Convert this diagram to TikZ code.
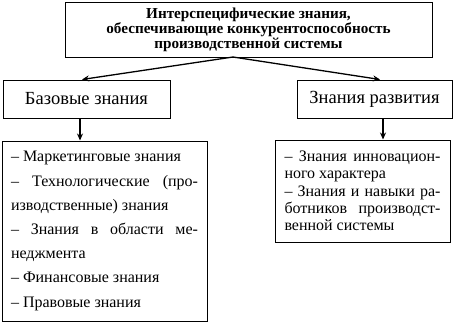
\documentclass[tikz,border=0pt]{standalone}
\usepackage{fontspec}
\setmainfont{Liberation Serif}
\usepackage{tikz}
\usetikzlibrary{arrows.meta,positioning}

\tikzset{
  box/.style={draw, line width=1pt, inner sep=0pt, align=center},
  listbox/.style={draw, line width=1pt, inner sep=0pt},
  arr/.style={line width=1.3pt, -{Stealth[length=7pt,width=6pt]}}
}

\begin{document}
\begin{tikzpicture}[x=1pt, y=-1pt]
\useasboundingbox (0,0) rectangle (454,324);

% upper level
\node[box, minimum width=367pt, minimum height=55pt,
  font=\fontsize{15.2}{15}\selectfont\bfseries] (top) at (248.5,29.5)
  {Интерспецифические знания,\\ обеспечивающие конкурентоспособность\\ производственной системы};

% the two kinds of knowledge
\node[box, minimum width=167pt, minimum height=38pt,
  font=\fontsize{18.5}{19}\selectfont] (base) at (86.5,99) {Базовые знания};
\node[box, minimum width=155pt, minimum height=38pt,
  font=\fontsize{18.5}{19}\selectfont] (dev) at (374.5,99) {Знания развития};

% lists
\node[listbox, minimum width=205pt, minimum height=180pt] (baselist) at (104.5,231)
  {\begin{minipage}{187pt}\fontsize{16}{24.2}\selectfont
   – Маркетинговые знания\\
   – Технологические (про-\linebreak изводственные) знания\\
   – Знания в области ме-\linebreak неджмента\\
   – Финансовые знания\\
   – Правовые знания
   \end{minipage}};
\node[listbox, minimum width=175pt, minimum height=102pt] (devlist) at (362.5,191)
  {\begin{minipage}{156pt}\fontsize{16}{17.3}\selectfont
   – Знания инновацион-\linebreak ного характера\\
   – Знания и навыки ра-\linebreak ботников производст-\linebreak венной системы
   \end{minipage}};

% connectors
\coordinate (fork) at (233,57);
\draw[arr] (fork) -- (base.north -| 82,0);
\draw[arr] (fork) -- (dev.north -| 380,0);
\draw[arr] (base.south -| 80,0) -- (baselist.north -| 80,0);
\draw[arr] (dev.south -| 383,0) -- (devlist.north -| 383,0);
\end{tikzpicture}
\end{document}
